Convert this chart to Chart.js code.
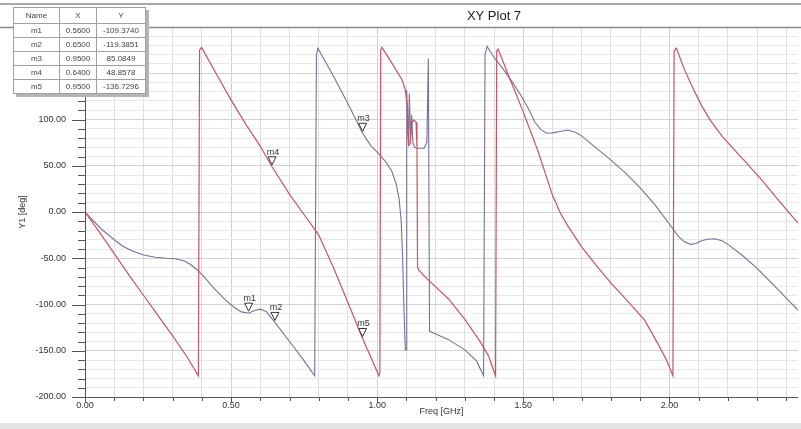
<!DOCTYPE html>
<html>
<head>
<meta charset="utf-8">
<script src="https://cdn.jsdelivr.net/npm/chart.js@4.4.1/dist/chart.umd.min.js"></script>
<style>
  html, body { margin: 0; padding: 0; background: #fff; }
  #wrap { position: relative; width: 801px; height: 429px; overflow: hidden; }
  canvas { position: absolute; left: 0; top: 0; }
  #mtable {
    position: absolute; left: 13px; top: 7px; border-collapse: collapse; table-layout: fixed;
    font-family: "Liberation Sans", Arial, sans-serif; font-size: 8px; color: #444;
    background: #fff; box-shadow: 3px 3px 0 #b4b4b4; border: 1px solid #666;
  }
  #mtable td, #mtable th { border: 1px solid #a0a0a0; padding: 0; height: 13px; line-height: 13px; text-align: center; font-weight: normal; white-space: nowrap; overflow: hidden; }
  #mtable th { height: 15px; line-height: 15px; }
</style>
</head>
<body>
<div id="wrap">
  <canvas id="c" width="801" height="429"></canvas>
  <table id="mtable">
    <colgroup><col style="width:46px"><col style="width:37px"><col style="width:49px"></colgroup>
    <tbody id="mbody"></tbody>
  </table>
</div>
<script>
// ---- data ----
const chartTitle = "XY Plot 7";
const xAxisTitle = "Freq [GHz]";
const yAxisTitle = "Y1 [deg]";

// red trace
const redFreq = [0, 0.05, 0.10, 0.15, 0.20, 0.25, 0.30, 0.35, 0.388, 0.392, 0.399, 0.45, 0.50, 0.55, 0.60, 0.64, 0.70, 0.75, 0.80, 0.85, 0.90, 0.95, 1.006, 1.009, 1.012, 1.016, 1.05, 1.085, 1.096, 1.104, 1.108, 1.113, 1.118, 1.125, 1.133, 1.136, 1.138, 1.142, 1.17, 1.20, 1.244, 1.30, 1.35, 1.38, 1.405, 1.409, 1.414, 1.45, 1.50, 1.55, 1.60, 1.625, 1.65, 1.70, 1.75, 1.80, 1.85, 1.915, 1.96, 1.99, 2.012, 2.016, 2.024, 2.05, 2.08, 2.11, 2.14, 2.18, 2.22, 2.255, 2.32, 2.37, 2.44];
const redPhase = [0, -22, -45, -68, -90, -112, -134, -157, -177, 175, 178, 149, 121, 95, 71, 48.9, 19, -3, -25, -60, -98, -136.7, -177, -174, 175, 178, 161, 143, 132, 112, 72, 74, 96, 99.5, 97, 70, -59, -63, -72, -81, -94, -116, -139, -155, -177, 174, 176, 147, 108, 66, 18, 0, -14, -38, -58, -77, -94, -117, -142, -160, -177, 174, 177, 155, 134, 115, 99, 82, 68, 56, 33, 14, -12];

// grey-violet trace
const darkFreq = [0, 0.03, 0.06, 0.10, 0.13, 0.16, 0.20, 0.24, 0.28, 0.31, 0.34, 0.36, 0.386, 0.41, 0.437, 0.48, 0.51, 0.535, 0.56, 0.58, 0.60, 0.62, 0.65, 0.70, 0.75, 0.786, 0.792, 0.797, 0.85, 0.90, 0.95, 0.98, 1.005, 1.03, 1.05, 1.065, 1.075, 1.082, 1.087, 1.091, 1.096, 1.099, 1.101, 1.104, 1.107, 1.110, 1.114, 1.118, 1.122, 1.128, 1.14, 1.16, 1.17, 1.175, 1.179, 1.187, 1.244, 1.30, 1.34, 1.364, 1.369, 1.376, 1.40, 1.43, 1.459, 1.49, 1.517, 1.54, 1.56, 1.578, 1.60, 1.625, 1.653, 1.68, 1.70, 1.75, 1.80, 1.85, 1.90, 1.95, 2.00, 2.03, 2.05, 2.072, 2.09, 2.11, 2.13, 2.154, 2.18, 2.20, 2.25, 2.30, 2.35, 2.40, 2.44];
const darkPhase = [0, -10, -19.5, -30, -37, -42, -46.5, -49, -50, -50.5, -53, -56.5, -63, -71, -81, -95, -103, -108, -109.4, -106.5, -105, -107.5, -119.4, -140, -161, -177, 170, 177, 147, 117, 85.1, 71, 63, 54, 44, 30, 14, -10, -50, -100, -149, -149, 132, 95, 72, 128, 80, 105, 75, 70, 69, 69, 75, 166, -129, -130, -138, -149, -161, -177, 170, 179, 167, 155, 142, 127, 112, 97, 89, 85.4, 85.5, 87, 88.6, 86, 82, 69, 56, 42, 26, 8, -13, -26, -32, -35, -34, -31, -29.5, -29, -31, -35, -47, -61, -77, -93, -106];

// markers
const markerNames = ["m1", "m2", "m3", "m4", "m5"];
const markerX = [0.5600, 0.6500, 0.9500, 0.6400, 0.9500];
const markerY = [-109.3740, -119.3851, 85.0849, 48.8578, -136.7296];

// axis ranges / ticks
const xMin = 0, xMax = 2.44, xStep = 0.1, xLabelEvery = 0.5;
const yMin = -200, yMax = 200, yStep = 10, yLabelEvery = 50;

// ---- marker table ----
const tbody = document.getElementById('mbody');
let html = '<tr><th>Name</th><th>X</th><th>Y</th></tr>';
for (let i = 0; i < markerNames.length; i++) {
  html += '<tr><td>' + markerNames[i] + '</td><td>' + markerX[i].toFixed(4) + '</td><td>' + markerY[i].toFixed(4) + '</td></tr>';
}
tbody.innerHTML = html;

const isMult = (v, m) => Math.abs(v / m - Math.round(v / m)) < 1e-6;

const framePlugin = {
  id: 'frame',
  beforeDraw(chart) {
    const ctx = chart.ctx;
    ctx.save();
    ctx.fillStyle = '#ffffff';
    ctx.fillRect(0, 0, chart.width, chart.height);
    ctx.fillStyle = '#a8a8a8';
    ctx.fillRect(0, 3, chart.width, 2);
    ctx.fillStyle = '#e4e4e4';
    ctx.fillRect(0, 423, chart.width, 6);
    ctx.fillStyle = '#222';
    ctx.font = '13px "Liberation Sans", Arial, sans-serif';
    ctx.textAlign = 'center';
    ctx.textBaseline = 'middle';
    ctx.fillText(chartTitle, 494, 16);
    ctx.restore();
  },
  afterDraw(chart) {
    const ctx = chart.ctx;
    const xs = chart.scales.x, ys = chart.scales.y;
    const a = chart.chartArea;
    ctx.save();
    ctx.strokeStyle = '#8a8a8a';
    ctx.lineWidth = 1.5;
    ctx.beginPath(); ctx.moveTo(0, a.top + 0.5); ctx.lineTo(chart.width, a.top + 0.5); ctx.stroke();
    ctx.strokeStyle = '#555';
    ctx.lineWidth = 1;
    ctx.beginPath();
    ctx.moveTo(a.left + 0.5, a.top); ctx.lineTo(a.left + 0.5, a.bottom + 6);
    ctx.moveTo(a.left - 4, a.bottom + 0.5); ctx.lineTo(a.right, a.bottom + 0.5);
    ctx.stroke();
    ctx.beginPath();
    for (let v = yMin; v <= yMax + 1e-9; v += yStep) {
      const py = Math.round(ys.getPixelForValue(v)) + 0.5;
      const len = isMult(v, yLabelEvery) ? 13 : 7;
      ctx.moveTo(a.left - len, py); ctx.lineTo(a.left, py);
    }
    for (let v = xMin; v <= xMax + 1e-9; v += xStep) {
      const px = Math.round(xs.getPixelForValue(v)) + 0.5;
      const len = isMult(v, xLabelEvery) ? 6 : 4;
      ctx.moveTo(px, a.bottom); ctx.lineTo(px, a.bottom + len);
    }
    ctx.stroke();
    ctx.font = '9px "Liberation Sans", Arial, sans-serif';
    ctx.textAlign = 'center';
    ctx.textBaseline = 'alphabetic';
    for (let i = 0; i < markerNames.length; i++) {
      const px = xs.getPixelForValue(markerX[i]);
      const py = ys.getPixelForValue(markerY[i]);
      ctx.beginPath();
      ctx.moveTo(px - 4, py - 10);
      ctx.lineTo(px + 4, py - 10);
      ctx.lineTo(px, py - 2);
      ctx.closePath();
      ctx.fillStyle = '#fff';
      ctx.fill();
      ctx.strokeStyle = '#333';
      ctx.lineWidth = 1;
      ctx.stroke();
      ctx.fillStyle = '#333';
      ctx.fillText(markerNames[i], px + 1, py - 12);
    }
    ctx.restore();
  }
};

new Chart(document.getElementById('c'), {
  type: 'line',
  data: {
    datasets: [
      {
        label: 'red',
        data: redFreq.map((f, i) => ({ x: f, y: redPhase[i] })),
        borderColor: '#c85462',
        borderWidth: 1.2,
        pointRadius: 0,
        tension: 0
      },
      {
        label: 'dark',
        data: darkFreq.map((f, i) => ({ x: f, y: darkPhase[i] })),
        borderColor: '#77719a',
        borderWidth: 1.1,
        pointRadius: 0,
        tension: 0
      }
    ]
  },
  options: {
    responsive: false,
    animation: false,
    devicePixelRatio: 1,
    layout: { padding: { left: 10, right: 3, top: 27, bottom: 5 } },
    plugins: { legend: { display: false }, tooltip: { enabled: false }, title: { display: false } },
    scales: {
      x: {
        type: 'linear', min: xMin, max: xMax,
        afterFit(s) { s.height = 27; },
        afterBuildTicks(s) {
          const t = [];
          for (let v = xMin; v <= xMax + 1e-9; v += xStep) t.push({ value: Math.round(v * 1000) / 1000 });
          s.ticks = t;
        },
        ticks: {
          autoSkip: false, maxRotation: 0, padding: 3,
          color: '#333', font: { family: '"Liberation Sans", Arial, sans-serif', size: 9 },
          callback: (v) => isMult(v, xLabelEvery) ? Number(v).toFixed(2) : ''
        },
        grid: { color: (c) => isMult(c.tick.value, xLabelEvery) ? '#cfcfcf' : '#dedede', lineWidth: 1, drawTicks: false },
        border: { display: false },
        title: { display: true, text: xAxisTitle, color: '#333', font: { family: '"Liberation Sans", Arial, sans-serif', size: 9 }, padding: { top: 0, bottom: 7 } }
      },
      y: {
        type: 'linear', min: yMin, max: yMax,
        afterFit(s) { s.width = 75; },
        afterBuildTicks(s) {
          const t = [];
          for (let v = yMin; v <= yMax + 1e-9; v += yStep) t.push({ value: v });
          s.ticks = t;
        },
        ticks: {
          autoSkip: false, padding: 19,
          color: '#333', font: { family: '"Liberation Sans", Arial, sans-serif', size: 9 },
          callback: (v) => isMult(v, yLabelEvery) ? Number(v).toFixed(2) : ''
        },
        grid: { color: (c) => isMult(c.tick.value, yLabelEvery) ? '#d2d2d2' : '#e9e9e9', lineWidth: 1, drawTicks: false },
        border: { display: false },
        title: { display: true, text: yAxisTitle, color: '#333', font: { family: '"Liberation Sans", Arial, sans-serif', size: 9 }, padding: { top: 7, bottom: 0 } }
      }
    }
  },
  plugins: [framePlugin]
});
</script>
</body>
</html>
